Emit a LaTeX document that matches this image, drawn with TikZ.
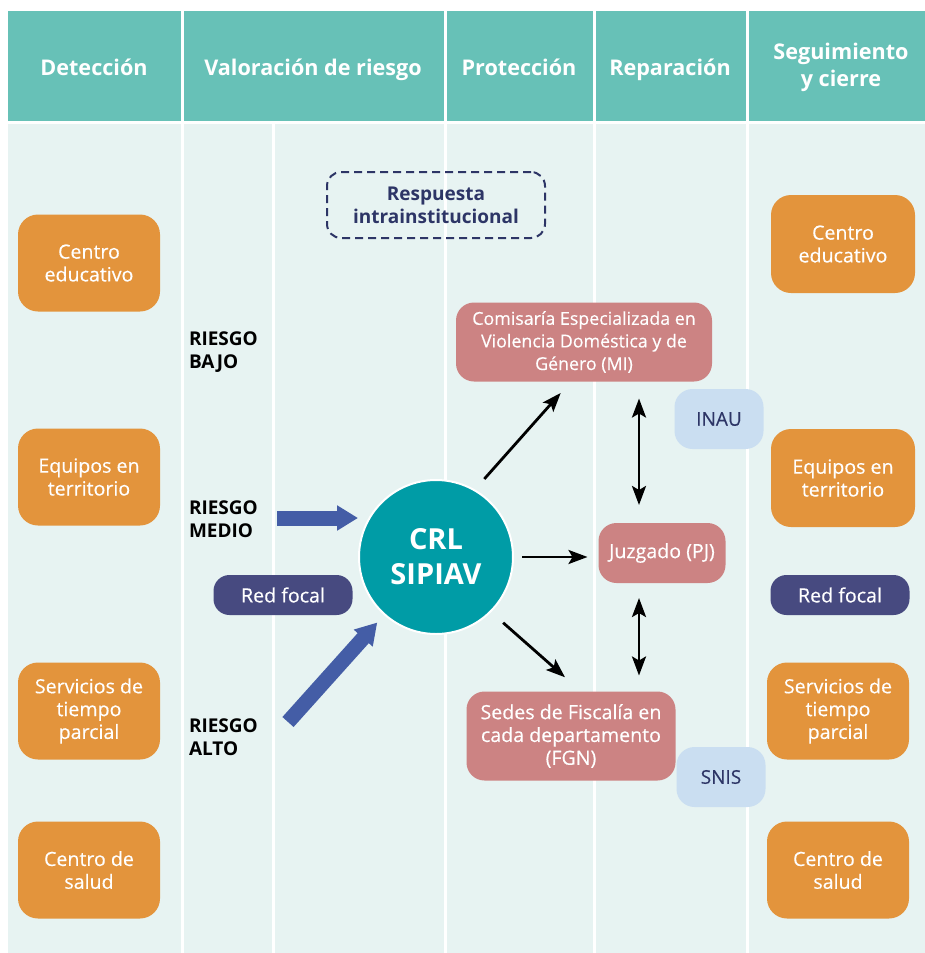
\documentclass[tikz,border=0pt]{standalone}
\usepackage{fontspec}
\setmainfont{Open Sans}
\newfontfamily\regfont{Open Sans}[FakeBold=0.35]
\usepackage{tikz}
\usetikzlibrary{arrows.meta,shapes}

\definecolor{headteal}{HTML}{67C1B7}
\definecolor{bodymint}{HTML}{E7F3F2}
\definecolor{detorange}{HTML}{E3943C}
\definecolor{reppink}{HTML}{CC8383}
\definecolor{focalnavy}{HTML}{474A80}
\definecolor{textnavy}{HTML}{2D3566}
\definecolor{lightblue}{HTML}{CADEF1}
\definecolor{crlteal}{HTML}{009CA6}
\definecolor{riskblue}{HTML}{445DA6}

\begin{document}
\begin{tikzpicture}[x=0.5pt,y=-0.5pt,>={Stealth[length=9.5pt,width=7pt,inset=2pt]},
                    line width=1pt]
  \tikzstyle{header}=[text=white,align=center,inner sep=0pt,
                      font=\fontsize{10.8}{13.5}\selectfont\bfseries]
  \tikzstyle{orangebox}=[rectangle,rounded corners=10pt,fill=detorange,text=white,
                         minimum width=71pt,minimum height=48.5pt,inner sep=0pt,
                         align=center,font=\regfont\fontsize{9.8}{11.4}\selectfont]
  \tikzstyle{focal}=[rectangle,rounded corners=8pt,fill=focalnavy,text=white,
                     minimum width=69.5pt,minimum height=20pt,inner sep=0pt,
                     font=\regfont\fontsize{9.8}{11.4}\selectfont]
  \tikzstyle{pinkbox}=[rectangle,rounded corners=9pt,fill=reppink,text=white,
                       inner sep=0pt,align=center,font=\regfont\fontsize{8.9}{11.3}\selectfont]
  \tikzstyle{bluebox}=[rectangle,rounded corners=9pt,fill=lightblue,text=textnavy,
                       minimum width=44.5pt,minimum height=30pt,inner sep=0pt,
                       font=\regfont\fontsize{9.5}{11.4}\selectfont]
  \tikzstyle{riesgo}=[anchor=west,align=left,inner sep=0pt,text=black,
                      font=\fontsize{9.5}{11.5}\selectfont\bfseries]
  \tikzstyle{riskarrow}=[draw=riskblue,line width=7.5pt,
                         -{Triangle[length=10.5pt,width=12pt]}]

  \useasboundingbox (0,0) rectangle (925,953);
  \fill[white] (0,0) rectangle (925,953);
  \fill[headteal] (8,11) rectangle (925,121);
  \fill[bodymint] (8,124) rectangle (925,953);
  \foreach \x in {182,445,594,747}
    \draw[white,line width=1.5pt] (\x,11) -- (\x,953);
  \draw[white,line width=1.5pt] (273,124) -- (273,953);

  % column titles
  \node[header,anchor=base] (hdet) at (94,75)  {Detección};
  \node[header,anchor=base] (hval) at (313,75) {Valoración de riesgo};
  \node[header,anchor=base] (hpro) at (519,75) {Protección};
  \node[header,anchor=base] (hrep) at (670,75) {Reparación};
  \node[header] (hseg) at (841,67) {Seguimiento\\y cierre};

  % detection and follow-up
  \node[orangebox] (det1) at (89,263) {Centro\\educativo};
  \node[orangebox] (det2) at (89,477) {Equipos en\\territorio};
  \node[orangebox] (det3) at (89,711) {Servicios de\\tiempo\\parcial};
  \node[orangebox] (det4) at (89,870) {Centro de\\salud};
  \node[orangebox,minimum width=72pt,minimum height=49pt] (seg1) at (843,244) {Centro\\educativo};
  \node[orangebox,minimum width=72pt,minimum height=49pt] (seg2) at (843,478) {Equipos en\\territorio};
  \node[orangebox] (seg3) at (838,711) {Servicios de\\tiempo\\parcial};
  \node[orangebox] (seg4) at (838,870) {Centro de\\salud};
  \node[focal] (redL) at (283,595) {Red focal};
  \node[focal] (redR) at (840,595) {Red focal};

  \node[riesgo] (rbajo)  at (188,352) {RIESGO\\BAJO};
  \node[riesgo] (rmedio) at (188,519) {RIESGO\\MEDIO};
  \node[riesgo] (ralto)  at (188,737) {RIESGO\\ALTO};

  \node[circle,fill=crlteal,draw=white,minimum size=77pt,inner sep=0pt,text=white,
        align=center,font=\fontsize{14.5}{17.5}\selectfont\bfseries] (crl) at (436,557) {CRL\\SIPIAV};
  \node[rectangle,rounded corners=7pt,draw=textnavy,dash pattern=on 4pt off 2.5pt,
        minimum width=109pt,minimum height=33pt,inner sep=0pt,align=center,text=textnavy,
        font=\fontsize{9.5}{11.5}\selectfont\bfseries] (resp) at (436,205) {Respuesta\\intrainstitucional};

  % protection and reparation
  \node[pinkbox,minimum width=128pt,minimum height=39.5pt] (comisaria) at (584,342)
       {Comisaría Especializada en\\Violencia Doméstica y de\\Género (MI)};
  \node[pinkbox,minimum width=63.5pt,minimum height=30pt,font=\regfont\fontsize{9.8}{11.4}\selectfont]
       (juzgado) at (662,553) {Juzgado (PJ)};
  \node[pinkbox,minimum width=104.5pt,minimum height=44.5pt,font=\regfont\fontsize{9.8}{11.4}\selectfont]
       (sedes) at (571,736) {Sedes de Fiscalía en\\cada departamento\\(FGN)};
  \node[bluebox] (inau) at (719,419) {INAU};
  \node[bluebox] (snis) at (721,777) {SNIS};

  % risk arrows
  \coordinate (tmedio) at (277,518);
  \coordinate (talto) at (288,722);
  \draw[riskarrow] (tmedio) -- (tmedio -| crl.west);
  \draw[riskarrow,shorten >=5pt] (talto) -- (crl);

  % referrals
  \path[->,line width=1.4pt]
        (crl.60)  edge[shorten <=7pt,shorten >=7pt] ([xshift=-7pt]comisaria.south)
        (crl.east) edge[shorten <=4pt,shorten >=5pt] (crl.east -| juzgado.west)
        (crl.-45) edge[shorten <=8pt,shorten >=10pt] ([xshift=4.5pt]sedes.north);
  \coordinate (vtop) at ([xshift=-11.5pt]juzgado.north);
  \coordinate (vbot) at ([xshift=-11.5pt]juzgado.south);
  \path[<->,line width=1.4pt]
        (vtop) edge[shorten <=8.5pt,shorten >=8pt] (vtop |- comisaria.south)
        (vbot) edge[shorten <=7pt,shorten >=7.5pt] (vbot |- sedes.north);
\end{tikzpicture}
\end{document}
